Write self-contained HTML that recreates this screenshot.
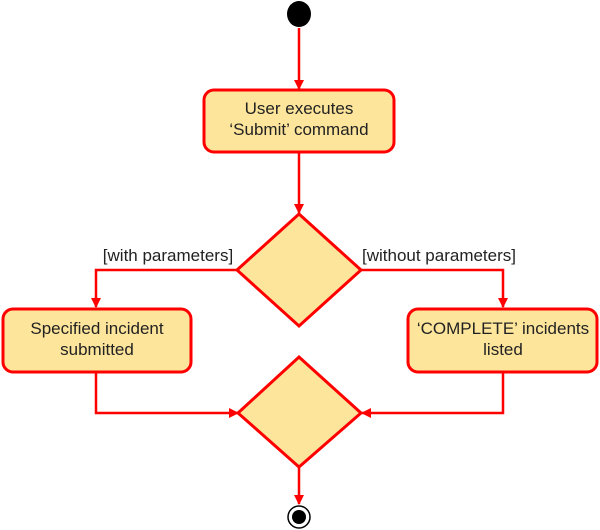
<!DOCTYPE html>
<html><head><style>html,body{margin:0;padding:0;background:#fff;}svg{display:block;}</style></head>
<body>
<svg width="600" height="530" viewBox="0 0 600 530" xmlns="http://www.w3.org/2000/svg">
<defs>
<marker id="a" markerWidth="10" markerHeight="10" refX="9" refY="5" orient="auto" markerUnits="userSpaceOnUse">
<path d="M0,0 L10,5 L0,10 z" fill="#f00"/></marker>
</defs>
<g fill="none" stroke="#f00" stroke-width="2.5">
<line x1="299" y1="28" x2="299" y2="89" marker-end="url(#a)"/>
<line x1="299" y1="153" x2="299" y2="213" marker-end="url(#a)"/>
<polyline points="237,270 96,270 96,307" marker-end="url(#a)"/>
<polyline points="361,270 503,270 503,307" marker-end="url(#a)"/>
<polyline points="96,372 96,413 238,413" marker-end="url(#a)"/>
<polyline points="503,372 503,413 362,413" marker-end="url(#a)"/>
<line x1="299" y1="467" x2="299" y2="504" marker-end="url(#a)"/>
</g>
<ellipse cx="299" cy="14" rx="12" ry="13" fill="#000"/>
<g fill="#fde59c" stroke="#f00" stroke-width="3">
<rect x="204" y="90" width="190" height="62" rx="10"/>
<polygon points="299,214 361,270 299,326 237,270"/>
<rect x="3" y="309" width="188" height="63" rx="10"/>
<rect x="408" y="309" width="189" height="63" rx="10"/>
<polygon points="299,357 361,413 299,467 238,413"/>
</g>
<circle cx="299" cy="517" r="11" fill="#fff" stroke="#000" stroke-width="1.5"/>
<circle cx="299" cy="517" r="7" fill="#000"/>
<g font-family="Liberation Sans, sans-serif" font-size="17" fill="#222" text-anchor="middle">
<text x="299" y="114">User executes</text>
<text x="299" y="135">‘Submit’ command</text>
<text x="97" y="334">Specified incident</text>
<text x="97" y="355">submitted</text>
<text x="503" y="334">‘COMPLETE’ incidents</text>
<text x="503" y="355">listed</text>
<text x="168" y="261">[with parameters]</text>
<text x="439" y="261">[without parameters]</text>
</g>
</svg>
</body></html>
